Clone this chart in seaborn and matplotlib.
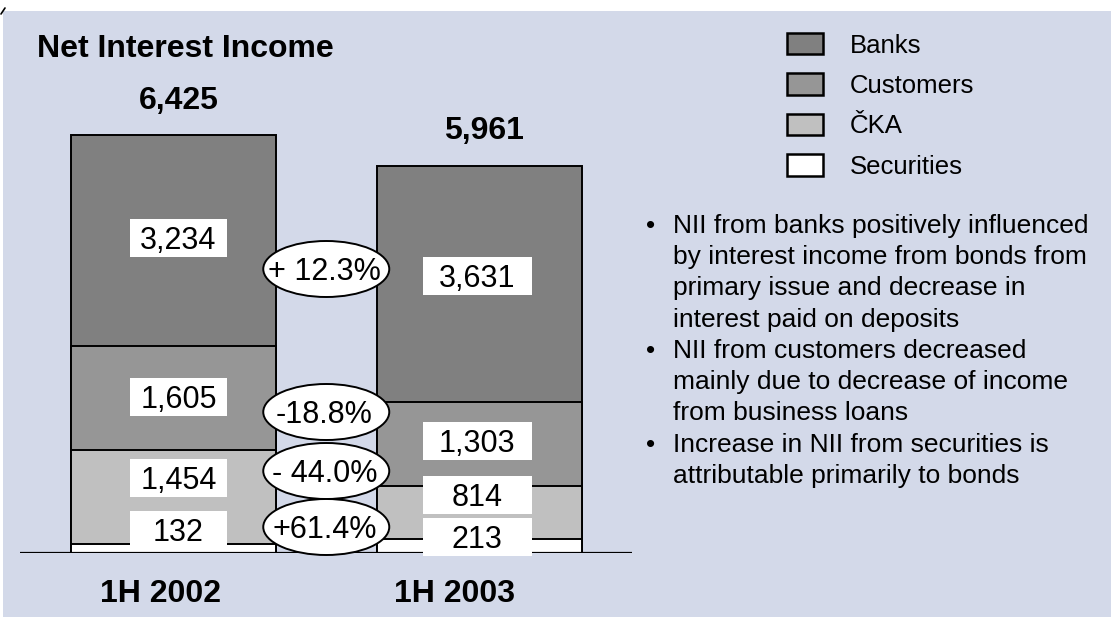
import matplotlib
matplotlib.use("Agg")
import matplotlib.pyplot as plt
from matplotlib.patches import Rectangle, Ellipse, Patch
from matplotlib.lines import Line2D
import pandas as pd
import seaborn as sns

# ---- data -------------------------------------------------------------
periods = ["1H 2002", "1H 2003"]
segments = ["Securities", "ČKA", "Customers", "Banks"]  # bottom -> top
securities = [132, 213]
cka = [1454, 814]
customers = [1605, 1303]
banks = [3234, 3631]
totals = [6425, 5961]
change_labels = ["+ 12.3%", "-18.8%", "- 44.0%", "+61.4%"]  # Banks, Customers, ČKA, Securities
bullets = [
    ["NII from banks positively influenced",
     "by interest income from bonds from",
     "primary issue and decrease in",
     "interest paid on deposits"],
    ["NII from customers decreased",
     "mainly due to decrease of income",
     "from business loans"],
    ["Increase in NII from securities is",
     "attributable primarily to bonds"],
]

# ---- style ------------------------------------------------------------
sns.set_style("white")
plt.rcParams["font.family"] = ["Liberation Sans", "DejaVu Sans"]
plt.rcParams["text.color"] = "black"

BG = "#d3d9e9"
colors = {"Banks": "#808080", "Customers": "#969696",
          "ČKA": "#c0c0c0", "Securities": "#ffffff"}

W, H = 1111, 617
fig = plt.figure(figsize=(W / 100, H / 100), dpi=100)
fig.patch.set_facecolor("white")


def fxy(x_px, y_px):
    """Pixel position (from top-left) to figure fraction."""
    return x_px / W, 1 - y_px / H


def put(x_px, y_px, s, **kw):
    fig.text(*fxy(x_px, y_px), s, **kw)


# slide background panel
fig.add_artist(Rectangle(fxy(3, H), 1 - 3 / W, 1 - 11 / H,
                         transform=fig.transFigure, facecolor=BG,
                         edgecolor="none", zorder=-10))
fig.add_artist(Line2D([1 / W, 5 / W], [1 - 14 / H, 1 - 8 / H],
                      transform=fig.transFigure, color="black", lw=1.2))

# ---- stacked bars -----------------------------------------------------
ax = fig.add_axes([20 / W, 1 - 553 / H, 612 / W, 533 / H])
ax.patch.set_alpha(0)

df = pd.DataFrame({"period": periods, "Securities": securities, "ČKA": cka,
                   "Customers": customers, "Banks": banks})
cum = df[segments].cumsum(axis=1)
for name in reversed(segments):
    plot_df = pd.DataFrame({"period": periods, "value": cum[name]})
    sns.barplot(data=plot_df, x="period", y="value", color=colors[name],
                saturation=1, edgecolor="black", linewidth=1.4, width=0.671,
                errorbar=None, ax=ax, zorder=2)

ax.set_xlim(-0.5025, 1.5008)
ax.set_ylim(0, 8200)
ax.axhline(0, color="black", lw=1.6, zorder=3)
ax.set_xticks([])
ax.set_yticks([])
ax.set_xlabel("")
ax.set_ylabel("")
for sp in ax.spines.values():
    sp.set_visible(False)

# bar centres in pixels
bar_cx = [ax.transData.transform((i, 0))[0] for i in range(2)]

# ---- totals above bars -----------------------------------------------
for i, t in enumerate(totals):
    ax.annotate(f"{t:,}", xy=(i, t), xytext=(3.6, 19.0),
                textcoords="offset points", ha="center", va="baseline",
                fontsize=23, fontweight="bold", zorder=5)

# ---- value boxes inside segments --------------------------------------
seg_values = {"Banks": banks, "Customers": customers, "ČKA": cka,
              "Securities": securities}
box_y = {0: [238.5, 397, 478, 530], 1: [276, 441, 495, 537]}
box_w = [97, 109]
box_dx = [5, -2]
for i in range(2):
    for k, name in enumerate(["Banks", "Customers", "ČKA", "Securities"]):
        cx = bar_cx[i] + box_dx[i]
        cy = box_y[i][k]
        fig.add_artist(Rectangle(fxy(cx - box_w[i] / 2, cy + 19),
                                 box_w[i] / W, 38 / H,
                                 transform=fig.transFigure,
                                 facecolor="white", edgecolor="none",
                                 zorder=4))
        put(cx, cy + 10.9, f"{seg_values[name][i]:,}", ha="center",
            va="baseline", fontsize=22, zorder=5)

# ---- change ellipses between the bars ---------------------------------
ell_y = [269, 412, 471, 527]
ex = (bar_cx[0] + bar_cx[1]) / 2
for lab, cy in zip(change_labels, ell_y):
    fig.add_artist(Ellipse(fxy(ex, cy), 126 / W, 56 / H,
                           transform=fig.transFigure, facecolor="white",
                           edgecolor="black", lw=1.4, zorder=6))
    put(ex - 2, cy + 10.9, lab, ha="center", va="baseline", fontsize=22,
        zorder=7)

# ---- texts ------------------------------------------------------------
put(36.5, 56.7, "Net Interest Income", fontsize=23, fontweight="bold")
put(161, 602, periods[0], ha="center", va="baseline", fontsize=23,
    fontweight="bold")
put(455, 602, periods[1], ha="center", va="baseline", fontsize=23,
    fontweight="bold")

line = 0
for group in bullets:
    for j, txt in enumerate(group):
        yb = 233 + 31.25 * line
        if j == 0:
            put(651, yb, "•", ha="center", va="baseline", fontsize=19)
        put(673, yb, txt, va="baseline", fontsize=19)
        line += 1

# ---- legend -----------------------------------------------------------
handles = [Patch(facecolor=colors[n], edgecolor="black", linewidth=1.8,
                 label=n) for n in ["Banks", "Customers", "ČKA", "Securities"]]
fig.legend(handles=handles, loc="upper left",
           bbox_to_anchor=fxy(787, 33), frameon=False, fontsize=18.5,
           handlelength=1.4, handleheight=0.9, handletextpad=1.05,
           labelspacing=0.62, borderpad=0, borderaxespad=0)

fig.savefig("out.png", dpi=100)
